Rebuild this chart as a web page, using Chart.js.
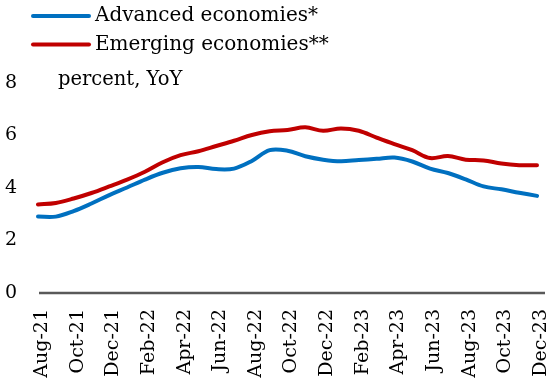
<!DOCTYPE html>
<html>
<head>
<meta charset="utf-8">
<script src="https://cdn.jsdelivr.net/npm/chart.js@4.4.1/dist/chart.umd.min.js"></script>
<style>
  html, body { margin: 0; padding: 0; background: #fff; }
</style>
</head>
<body>
<canvas id="inflChart" width="548" height="384"></canvas>
<script>
// monthly core inflation, percent YoY
const months = [
  'Aug-21', 'Sep-21', 'Oct-21', 'Nov-21', 'Dec-21',
  'Jan-22', 'Feb-22', 'Mar-22', 'Apr-22', 'May-22', 'Jun-22', 'Jul-22',
  'Aug-22', 'Sep-22', 'Oct-22', 'Nov-22', 'Dec-22',
  'Jan-23', 'Feb-23', 'Mar-23', 'Apr-23', 'May-23', 'Jun-23', 'Jul-23',
  'Aug-23', 'Sep-23', 'Oct-23', 'Nov-23', 'Dec-23'
];
const advanced = [2.91, 2.91, 3.12, 3.41, 3.73, 4.02, 4.32, 4.58, 4.75, 4.80,
  4.72, 4.74, 5.03, 5.44, 5.42, 5.21, 5.08, 5.02, 5.07, 5.11,
  5.16, 5.01, 4.74, 4.57, 4.33, 4.06, 3.95, 3.82, 3.70];
const emerging = [3.37, 3.43, 3.60, 3.81, 4.06, 4.32, 4.62, 4.98, 5.25, 5.40,
  5.60, 5.80, 6.02, 6.16, 6.21, 6.31, 6.18, 6.27, 6.18, 5.92,
  5.67, 5.44, 5.14, 5.22, 5.08, 5.05, 4.93, 4.87, 4.87];
const seriesNames = ['Advanced economies*', 'Emerging economies**'];
const unitLabel = 'percent, YoY';
const yMin = 0, yMax = 8, yStep = 2;

const serif = '"DejaVu Serif", "Liberation Serif", serif';

// legend stacked top-left, drawn by hand
const legendPlugin = {
  id: 'legendPlugin',
  afterDraw(chart) {
    const ctx = chart.ctx;
    ctx.save();
    chart.data.datasets.forEach((ds, i) => {
      const y = 16 + i * 28.6;
      ctx.beginPath();
      ctx.strokeStyle = ds.borderColor;
      ctx.lineWidth = 4;
      ctx.lineCap = 'round';
      ctx.moveTo(33, y);
      ctx.lineTo(89, y);
      ctx.stroke();
      ctx.fillStyle = '#000';
      ctx.font = '20px ' + serif;
      ctx.textBaseline = 'middle';
      ctx.fillText(ds.label, 95, y);
    });
    ctx.font = '19.5px ' + serif;
    ctx.fillText(unitLabel, 58, 80);
    ctx.restore();
  }
};

// x axis line runs a little past the last month
const baseline = {
  id: 'baseline',
  beforeDatasetsDraw(chart) {
    const { ctx, chartArea } = chart;
    const y = chart.scales.y.getPixelForValue(0);
    ctx.save();
    ctx.strokeStyle = '#595959';
    ctx.lineWidth = 2.5;
    ctx.beginPath();
    ctx.moveTo(chartArea.left + 1, y);
    ctx.lineTo(chartArea.right + 8, y);
    ctx.stroke();
    ctx.restore();
  }
};

new Chart(document.getElementById('inflChart'), {
  type: 'line',
  data: {
    labels: months,
    datasets: [
      { label: seriesNames[0], data: advanced, borderColor: '#0070C0' },
      { label: seriesNames[1], data: emerging, borderColor: '#C00000' }
    ]
  },
  options: {
    responsive: false,
    animation: false,
    devicePixelRatio: 1,
    layout: { padding: { top: 83, right: 11, left: 0, bottom: 0 } },
    elements: {
      point: { radius: 0 },
      line: { borderWidth: 4, tension: 0.35, fill: false, borderCapStyle: 'round' }
    },
    plugins: { legend: { display: false }, tooltip: { enabled: false } },
    scales: {
      x: {
        grid: { display: false, drawTicks: false },
        border: { display: false },
        ticks: {
          autoSkip: false,
          minRotation: 90,
          maxRotation: 90,
          padding: 16,
          labelOffset: 4,
          color: '#000',
          font: { family: serif, size: 19 },
          callback: (v, i) => (i % 2 === 0 ? months[i] : '')
        },
        afterFit: (s) => {
          s.height = 91;
          s.paddingLeft = 0;
          s.paddingRight = 0;
        }
      },
      y: {
        min: yMin,
        max: yMax,
        grid: { display: false, drawTicks: false },
        border: { display: false },
        ticks: {
          stepSize: yStep,
          padding: 21,
          color: '#000',
          font: { family: serif, size: 19 }
        },
        afterFit: (s) => {
          s.width = 38;
          s.paddingTop = 0;
          s.paddingBottom = 0;
        }
      }
    }
  },
  plugins: [baseline, legendPlugin]
});
</script>
</body>
</html>
